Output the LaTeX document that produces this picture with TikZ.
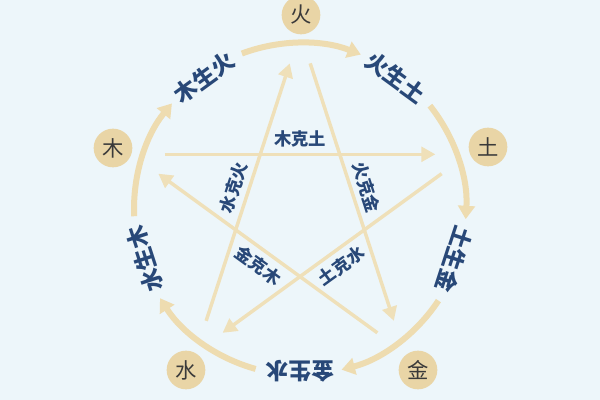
\documentclass[tikz,border=0pt]{standalone}
\usepackage{fontspec}
\newfontfamily\cjk{Noto Sans CJK SC}
\usetikzlibrary{arrows.meta,calc}
\definecolor{bg}{HTML}{EDF6FA}
\definecolor{tanc}{HTML}{E9D5A6}
\definecolor{arcc}{HTML}{EEDCB0}
\definecolor{starc}{HTML}{EFE0B9}
\definecolor{txtb}{HTML}{284878}
\definecolor{txtg}{HTML}{3A3A3A}
\begin{document}
\begin{tikzpicture}[x=0.75pt,y=0.75pt,
  elem/.style={circle,fill=tanc,minimum size=29pt,inner sep=0pt,font=\cjk\fontsize{16}{16}\selectfont,text=txtg},
  shenglbl/.style={font=\cjk\bfseries\fontsize{17}{17}\selectfont,text=txtb,inner sep=0pt},
  kelbl/.style={font=\cjk\bfseries\fontsize{13}{13}\selectfont,text=txtb,inner sep=0pt},
  shengarc/.style={draw=arcc,line width=4.5pt,-{Triangle[length=10pt,width=12.5pt]}},
  keline/.style={draw=starc,line width=2.6pt,-{Triangle[length=10.5pt,width=11pt]}}]
\useasboundingbox (0,0) rectangle (600,400);
\clip (0,0) rectangle (600,400);
\fill[bg] (0,0) rectangle (600,400);
\coordinate (C) at (300,191);
% sheng arcs
\foreach \t/\n in {90/huo,18/tu,-54/jin,-126/shui,162/mu} {
  \coordinate (s\n) at ($(C)+(\t+20.5:124.5pt)$);
  \draw[shengarc] (s\n) arc[start angle=\t+20.5, end angle=\t-21.5, radius=124.5pt];
}
% sheng labels
\node[shenglbl,rotate=36]   (lmh) at ($(C)+(126:122pt)$) {木生火};
\node[shenglbl,rotate=-36]  (lht) at ($(C)+(54:122pt)$) {火生土};
\node[shenglbl,rotate=-108] (ltj) at ($(C)+(-18:122pt)$) {土生金};
\node[shenglbl,rotate=-180] (ljs) at ($(C)+(-90:122pt)$) {金生水};
\node[shenglbl,rotate=108]  (lsm) at ($(C)+(198:122pt)$) {水生木};
% ke lines
\coordinate (k1a) at ($(C)+(158:109.5pt)$);
\coordinate (k1b) at ($(C)+(22:109.5pt)$);
\coordinate (k2a) at ($(C)+(86:109.5pt)$);
\coordinate (k2b) at ($(C)+(-50:109.5pt)$);
\coordinate (k3a) at ($(C)+(14:109.5pt)$);
\coordinate (k3b) at ($(C)+(-122:109.5pt)$);
\coordinate (k4a) at ($(C)+(-58:109.5pt)$);
\coordinate (k4b) at ($(C)+(166:109.5pt)$);
\coordinate (k5a) at ($(C)+(-130:109.5pt)$);
\coordinate (k5b) at ($(C)+(94:109.5pt)$);
\draw[keline] (k1a) -- (k1b);
\draw[keline] (k2a) -- (k2b);
\draw[keline] (k3a) -- (k3b);
\draw[keline] (k4a) -- (k4b);
\draw[keline] (k5a) -- (k5b);
% ke labels
\node[kelbl,rotate=0]   (kl1) at ($(C)+(90:52.5pt)$) {木克土};
\node[kelbl,rotate=-72] (kl2) at ($(C)+(18:52.5pt)$) {火克金};
\node[kelbl,rotate=36]  (kl3) at ($(C)+(-54:52.5pt)$) {土克水};
\node[kelbl,rotate=-36] (kl4) at ($(C)+(-126:52.5pt)$) {金克木};
\node[kelbl,rotate=72]  (kl5) at ($(C)+(162:52.5pt)$) {水克火};
% elements
\node[elem] (huo)  at (301,385) {火};
\node[elem] (tu)   at (488,253) {土};
\node[elem] (jin)  at (418,30)  {金};
\node[elem] (shui) at (186,30)  {水};
\node[elem] (mu)   at (113,252) {木};
\end{tikzpicture}
\end{document}
